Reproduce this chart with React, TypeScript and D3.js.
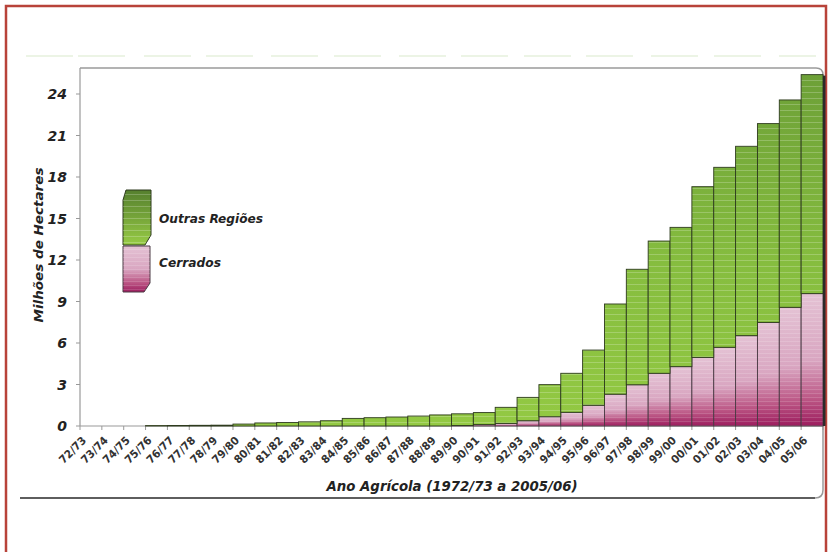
import React from 'react';
import * as d3 from 'd3';

const categories = ['72/73','73/74','74/75','75/76','76/77','77/78','78/79','79/80','80/81','81/82','82/83','83/84','84/85','85/86','86/87','87/88','88/89','89/90','90/91','91/92','92/93','93/94','94/95','95/96','96/97','97/98','98/99','99/00','00/01','01/02','02/03','03/04','04/05','05/06'];

const cerrados = [0,0,0,0,0,0,0,0,0,0,0,0,0,0,0,0,0,0.04,0.1,0.19,0.38,0.67,0.99,1.5,2.3,2.98,3.81,4.29,4.96,5.69,6.53,7.49,8.58,9.57];

const outrasRegioes = [0,0,0,0.03,0.04,0.05,0.06,0.14,0.22,0.25,0.3,0.38,0.55,0.6,0.65,0.72,0.8,0.84,0.87,1.16,1.69,2.32,2.82,3.99,6.52,8.35,9.56,10.07,12.34,13.01,13.69,14.37,14.99,15.83];

const yTicks = [0,3,6,9,12,15,18,21,24];

const decorStarts = [26,78,144,206,271,334,399,461,524,586,651,714,779];

const FONT = "'DejaVu Sans', Verdana, sans-serif";

export default function App() {
  const W = 828, H = 552;
  const left = 80, right = 823, bottom = 426;
  const x = d3.scaleBand<string>().domain(categories).range([left, right]).padding(0);
  const y = d3.scaleLinear().domain([0, 24]).range([bottom, 94]);
  const rows = categories.map((c, i) => ({ cat: c, cerrados: cerrados[i], outras: outrasRegioes[i] }));
  const stack = d3.stack<any>().keys(['cerrados', 'outras'])(rows);
  const bw = x.bandwidth();
  const lastTotal = cerrados[cerrados.length - 1] + outrasRegioes[outrasRegioes.length - 1];

  return (
    <svg width={W} height={H} style={{ position: 'absolute', left: 0, top: 0, background: '#fff' }}>
      <defs>
        <linearGradient id="gGreen" gradientUnits="userSpaceOnUse" x1="0" y1="68" x2="0" y2="426">
          <stop offset="0" stopColor="#6c9f37" />
          <stop offset="0.55" stopColor="#86bd3f" />
          <stop offset="1" stopColor="#93c943" />
        </linearGradient>
        <linearGradient id="gPink" x1="0" y1="0" x2="0" y2="1">
          <stop offset="0" stopColor="#e4c2d4" />
          <stop offset="0.5" stopColor="#d9a6c1" />
          <stop offset="0.8" stopColor="#bb5584" />
          <stop offset="1" stopColor="#9c1d5e" />
        </linearGradient>
        <linearGradient id="gLegGreen" x1="0" y1="0" x2="0" y2="1">
          <stop offset="0" stopColor="#557f2e" />
          <stop offset="1" stopColor="#97cb45" />
        </linearGradient>
        <pattern id="stripes" width="4" height="6" patternUnits="userSpaceOnUse">
          <rect x="0" y="2" width="4" height="1" fill="#ffffff" opacity="0.22" />
        </pattern>
        <pattern id="stripesPink" width="4" height="4" patternUnits="userSpaceOnUse">
          <rect x="0" y="1" width="4" height="1" fill="#ffffff" opacity="0.15" />
        </pattern>
      </defs>

      {/* red outer frame */}
      <path d="M6,560 V6 H826 V560" fill="none" stroke="#b8433a" strokeWidth={2.5} />

      {/* faint decorative strip */}
      {decorStarts.map((s, i) => (
        <line key={i} x1={s} x2={s + (i === decorStarts.length - 1 ? 37 : 47)} y1={56} y2={56} stroke="#e6f0dc" strokeWidth={1.5} />
      ))}

      {/* panel frame */}
      <path d="M80,68 H816 Q823,68 823,75 V490 Q823,498 815,498 H20" fill="none" stroke="#9a9a9a" strokeWidth={1.5} />
      <line x1={20} x2={815} y1={498} y2={498} stroke="#5e5e5e" strokeWidth={2.2} />

      {/* y axis */}
      <line x1={left} x2={left} y1={68} y2={bottom} stroke="#999" strokeWidth={1.2} />
      {yTicks.map(t => (
        <g key={t}>
          <line x1={left - 4} x2={left} y1={y(t)} y2={y(t)} stroke="#999" strokeWidth={1} />
          <text x={67} y={y(t) + 5} textAnchor="end" fontFamily={FONT} fontWeight="bold" fontStyle="italic" fontSize={14} fill="#222">{t}</text>
        </g>
      ))}

      {/* x axis */}
      <line x1={left} x2={right} y1={bottom} y2={bottom} stroke="#999" strokeWidth={1.2} />
      {categories.map((c, i) => (
        <line key={'t' + i} x1={x(c)!} x2={x(c)!} y1={bottom} y2={bottom + 4} stroke="#999" strokeWidth={1} />
      ))}
      <line x1={right} x2={right} y1={bottom} y2={bottom + 4} stroke="#999" strokeWidth={1} />

      {/* bars */}
      {stack.map((series, si) => (
        <g key={series.key}>
          {series.map((d: any, i: number) => {
            const h = y(d[0]) - y(d[1]);
            if (h <= 0) return null;
            const xx = x(categories[i])!;
            return (
              <g key={i}>
                <rect x={xx} y={y(d[1])} width={bw} height={h} fill={si === 0 ? 'url(#gPink)' : 'url(#gGreen)'} />
                <rect x={xx} y={y(d[1])} width={bw} height={h} fill={si === 0 ? 'url(#stripesPink)' : 'url(#stripes)'} />
                <rect x={xx} y={y(d[1])} width={bw} height={h} fill="none" stroke={si === 0 ? '#4a3a44' : '#2e3b1e'} strokeWidth={0.9} />
              </g>
            );
          })}
        </g>
      ))}
      {/* right shadow */}
      <rect x={right} y={y(lastTotal) + 1} width={2.5} height={bottom - y(lastTotal) - 1} fill="#2a2a2a" />

      {/* x tick labels */}
      {categories.map((c, i) => {
        const cx = x(c)! + bw / 2 - 4;
        return (
          <text key={'l' + i} transform={`translate(${cx},441) rotate(-45)`} textAnchor="end" fontFamily={FONT} fontSize={11} fontWeight="bold" fill="#333" textLength={33} lengthAdjust="spacingAndGlyphs">{c}</text>
        );
      })}

      {/* axis titles */}
      <text x={452} y={491} textAnchor="middle" fontFamily={FONT} fontWeight="bold" fontStyle="italic" fontSize={14} fill="#222" textLength={251} lengthAdjust="spacingAndGlyphs">Ano Agrícola (1972/73 a 2005/06)</text>
      <text transform="translate(43,245) rotate(-90)" textAnchor="middle" fontFamily={FONT} fontWeight="bold" fontStyle="italic" fontSize={13} fill="#222" textLength={155} lengthAdjust="spacingAndGlyphs">Milhões de Hectares</text>

      {/* legend */}
      <path d="M126,190 H151 V235 L145,245 H123 V200 Z" fill="url(#gLegGreen)" stroke="#2e3b1e" strokeWidth={1} />
      <path d="M126,190 H151 V235 L145,245 H123 V200 Z" fill="url(#stripes)" />
      <path d="M123,246 H150 V283 L144,292 H123 Z" fill="url(#gPink)" stroke="#4a3a44" strokeWidth={1} />
      <path d="M123,246 H150 V283 L144,292 H123 Z" fill="url(#stripesPink)" />
      <text x={159} y={223} fontFamily={FONT} fontWeight="bold" fontStyle="italic" fontSize={13} fill="#222" textLength={104} lengthAdjust="spacingAndGlyphs">Outras Regiões</text>
      <text x={159} y={267} fontFamily={FONT} fontWeight="bold" fontStyle="italic" fontSize={13} fill="#222" textLength={62} lengthAdjust="spacingAndGlyphs">Cerrados</text>
    </svg>
  );
}
